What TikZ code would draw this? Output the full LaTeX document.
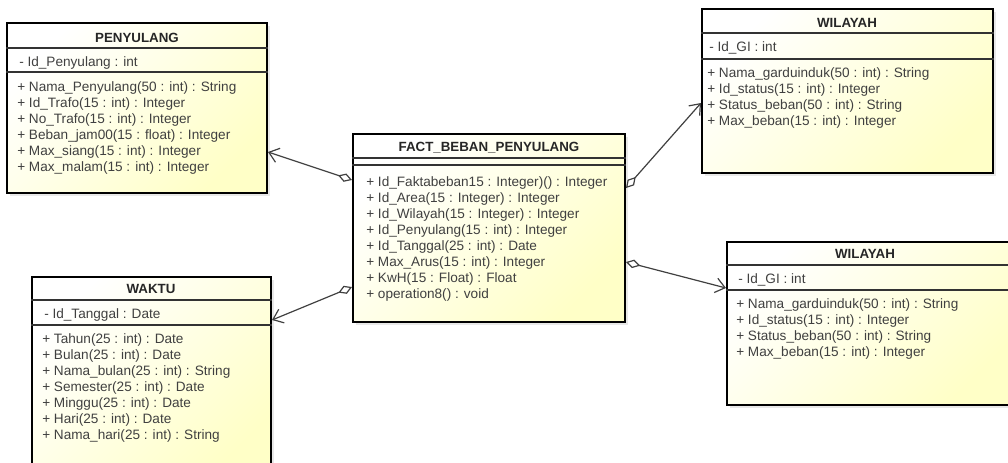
\documentclass[tikz,border=0pt]{standalone}
\usepackage{fontspec}
\setmainfont{Liberation Sans}
\usetikzlibrary{arrows.meta,fit,shadows}

\tikzset{
  cls/.style={draw=black, line width=1.5pt, inner sep=0pt,
    top color=white, bottom color=yellow!22, shading angle=45,
    drop shadow={shadow xshift=2.5pt, shadow yshift=-2.5pt, opacity=0.18}},
  sep/.style={draw=black!80, line width=0.8pt},
  title/.style={inner sep=0pt, font=\fontsize{10}{12}\selectfont\bfseries, text=black!85},
  txt/.style={anchor=west, inner sep=0pt, font=\fontsize{10.2}{12}\selectfont, text=black!75},
  ops/.style={txt, align=left, anchor=base west},
  agg/.style={draw=black!75, line width=0.9pt,
    {Diamond[fill=white, length=11pt, width=6.5pt]}-{Straight Barb[length=7pt, width=11pt]}}
}

\begin{document}
\begin{tikzpicture}[x=0.75pt, y=-0.75pt]
\useasboundingbox (0,0) rectangle (1008,462);
\clip (0,0) rectangle (1008,462);

% class boxes
\node[cls, fit={(7,23) (267,193)}] (peny) {};
\node[cls, fit={(353,134) (625,322)}] (fact) {};
\node[cls, fit={(702,9) (993,173)}] (wilA) {};
\node[cls, fit={(727,242) (1014,405)}] (wilB) {};
\node[cls, fit={(32,277) (271,480)}] (waktu) {};

% compartments
\draw[sep] (peny.west |- 0,48) -- (peny.east |- 0,48);
\draw[sep] (peny.west |- 0,72) -- (peny.east |- 0,72);
\draw[sep] (fact.west |- 0,158) -- (fact.east |- 0,158);
\draw[sep] (fact.west |- 0,165) -- (fact.east |- 0,165);
\draw[sep] (wilA.west |- 0,33) -- (wilA.east |- 0,33);
\draw[sep] (wilA.west |- 0,59) -- (wilA.east |- 0,59);
\draw[sep] (wilB.west |- 0,265) -- (wilB.east |- 0,265);
\draw[sep] (wilB.west |- 0,290) -- (wilB.east |- 0,290);
\draw[sep] (waktu.west |- 0,300) -- (waktu.east |- 0,300);
\draw[sep] (waktu.west |- 0,325) -- (waktu.east |- 0,325);

% PENYULANG
\node[title] (peny-n) at (137,38) {PENYULANG};
\node[txt] (peny-a) at (19,63) {- Id\_Penyulang : int};
\node[ops] (peny-m) at (17,171) {+ Nama\_Penyulang(50 : int) : String\\
  + Id\_Trafo(15 : int) : Integer\\
  + No\_Trafo(15 : int) : Integer\\
  + Beban\_jam00(15 : float) : Integer\\
  + Max\_siang(15 : int) : Integer\\
  + Max\_malam(15 : int) : Integer};

% FACT_BEBAN_PENYULANG
\node[title] (fact-n) at (489,148) {FACT\_BEBAN\_PENYULANG};
\node[ops] (fact-m) at (366,298) {+ Id\_Faktabeban15 : Integer)() : Integer\\
  + Id\_Area(15 : Integer) : Integer\\
  + Id\_Wilayah(15 : Integer) : Integer\\
  + Id\_Penyulang(15 : int) : Integer\\
  + Id\_Tanggal(25 : int) : Date\\
  + Max\_Arus(15 : int) : Integer\\
  + KwH(15 : Float) : Float\\
  + operation8() : void};

% WILAYAH (atas)
\node[title] (wilA-n) at (847,23) {WILAYAH};
\node[txt] (wilA-a) at (709,48) {- Id\_GI : int};
\node[ops] (wilA-m) at (707,125) {+ Nama\_garduinduk(50 : int) : String\\
  + Id\_status(15 : int) : Integer\\
  + Status\_beban(50 : int) : String\\
  + Max\_beban(15 : int) : Integer};

% WILAYAH (bawah)
\node[title] (wilB-n) at (865,254) {WILAYAH};
\node[txt] (wilB-a) at (738,280) {- Id\_GI : int};
\node[ops] (wilB-m) at (736,356) {+ Nama\_garduinduk(50 : int) : String\\
  + Id\_status(15 : int) : Integer\\
  + Status\_beban(50 : int) : String\\
  + Max\_beban(15 : int) : Integer};

% WAKTU
\node[title] (waktu-n) at (151,289) {WAKTU};
\node[txt] (waktu-a) at (44,315) {- Id\_Tanggal : Date};
\node[ops] (waktu-m) at (42,439) {+ Tahun(25 : int) : Date\\
  + Bulan(25 : int) : Date\\
  + Nama\_bulan(25 : int) : String\\
  + Semester(25 : int) : Date\\
  + Minggu(25 : int) : Date\\
  + Hari(25 : int) : Date\\
  + Nama\_hari(25 : int) : String};

% agregasi
\draw[agg] (fact.west |- 0,180) -- (peny.east |- 0,152);
\draw[agg] (fact.west |- 0,287) -- (waktu.east |- 0,320);
\draw[agg] (fact.east |- 0,188) -- (wilA.west |- 0,103);
\draw[agg] (fact.east |- 0,262) -- (wilB.west |- 0,288);
\end{tikzpicture}
\end{document}
